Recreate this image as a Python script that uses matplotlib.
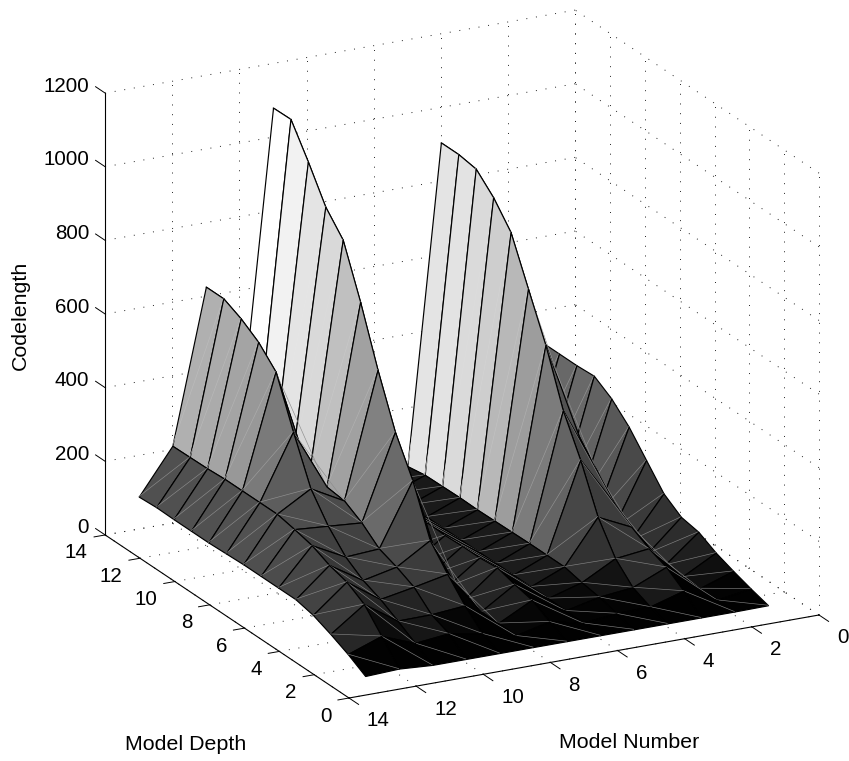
import numpy as np
from matplotlib import pyplot as plt
from mpl_toolkits.mplot3d import proj3d
from mpl_toolkits.mplot3d.art3d import Poly3DCollection
#
W,H=849,761
FS=14.8
plt.rcParams['font.family']=['Liberation Sans','DejaVu Sans']
# codelength per model number, listed from depth 14 down to depth 1
n1=[315,315,315,318,288,243,184,125,93,84,59,41,25,11]
n2=[12,12,12,12,12,12,12,12,10,10,10,10,10,10]
n3=[300,300,300,300,300,300,280,220,163,130,103,84,51,10]
n4=[905,905,897,851,788,666,545,399,296,173,92,45,24,10]
n5=[42,50,51,52,51,52,53,54,54,54,43,35,22,10]
n6=[16,16,16,16,16,16,16,16,16,16,16,14,12,10]
n7=[78,78,78,78,78,79,77,79,79,84,70,59,32,10]
n8=[15,15,15,15,15,15,15,15,14,12,12,12,10,10]
n9=[1080,1081,997,906,848,711,558,421,321,190,130,76,32,10]
n10=[229,229,229,229,229,225,219,191,152,134,111,68,48,10]
n11=[626,626,603,571,522,390,268,198,146,114,94,67,38,10]
n12=[210,211,212,215,215,215,215,205,193,171,157,128,73,16]
n13=[88,91,90,90,90,92,94,94,94,94,83,63,40,12]
depth=list(range(14,0,-1))
number=list(range(1,14))
dticks=list(range(0,15,2))
nticks=list(range(0,15,2))
zticks=list(range(0,1201,200))
ramp_z=[0,30,54,92,210,625,905,1081]
ramp_g=[0,4,28,50,80,176,228,255]
# wanted pixel positions of two floor corners, used to place the axes
FRONT=(349,698)
RIGHT=(819,615)
#
z=np.array([n1,n2,n3,n4,n5,n6,n7,n8,n9,n10,n11,n12,n13],float).T
#
fig=plt.figure(figsize=(W/100,H/100),dpi=100)
ax=fig.add_axes([0,0,1,1],projection='3d',proj_type='ortho',computed_zorder=False)
ax.set_xlim(0,14)
ax.set_ylim(0,14)
ax.set_zlim(0,1200)
ax.view_init(elev=20.1,azim=152.8)
ax.set_box_aspect((534,529,471))
ax.set_axis_off()
#
def grid(xs,ys,zs):
    ax.plot(xs,ys,zs,color='#222222',lw=.7,ls=(0,(1,9)),zorder=1,clip_on=False)
#
def solid(xs,ys,zs,lw=.8):
    ax.plot(xs,ys,zs,color='k',lw=lw,zorder=5000,clip_on=False)
#
for d in dticks:
    grid([d,d],[0,14],[0,0])
    grid([d,d],[0,0],[0,1200])
for n in nticks:
    grid([0,14],[n,n],[0,0])
    grid([14,14],[n,n],[0,1200])
for v in zticks:
    grid([14,14],[0,14],[v,v])
    grid([0,14],[0,0],[v,v])
# surface, painted cell by cell from the far corner to the near one
zo=100
for i in range(len(depth)-1):
    for j in range(len(number)-1):
        # i is the deep side, i+1 the shallow side; j the low number side
        dh,dl=depth[i],depth[i+1]
        nl,nh=number[j],number[j+1]
        quad=[(dl,nl,z[i+1,j]),(dl,nh,z[i+1,j+1]),(dh,nh,z[i,j+1]),(dh,nl,z[i,j])]
        g=np.interp(z[i+1,j],ramp_z,ramp_g)/255
        poly=Poly3DCollection([quad],facecolors=[(g,g,g)],edgecolors='k',linewidths=.85,zorder=zo,clip_on=False)
        ax.add_collection3d(poly,autolim=False)
        hi=g+.5*(1-g)**2
        ax.plot([dl,dh],[nl,nh],[z[i+1,j],z[i,j+1]],color=(hi,hi,hi),lw=.45,zorder=zo+1,clip_on=False)
        zo+=2
# axis lines and ticks
solid([0,14],[14,14],[0,0])
solid([0,0],[0,14],[0,0])
solid([14,14],[14,14],[0,1200])
for d in dticks:
    solid([d,d],[14,14.33],[0,0],.7)
for n in nticks:
    solid([0,-.55],[n,n],[0,0],.7)
for v in zticks:
    solid([14,14.55],[14,14],[v,v],.7)
#
def px(x,y,zz):
    xs,ys,_=proj3d.proj_transform(x,y,zz,ax.get_proj())
    a,b=ax.transData.transform((xs,ys))
    return a,H-b
# scale then shift the axes so the box lands where it should
side=800.
x0,y0=0.,0.
def place():
    ax.set_position([x0/W,y0/H,side/W,side/H])
    fig.canvas.draw()
place()
f,r=px(0,14,0),px(0,0,0)
side*=(RIGHT[0]-FRONT[0])/(r[0]-f[0])
place()
f=px(0,14,0)
x0+=FRONT[0]-f[0]
y0-=FRONT[1]-f[1]
place()
#
def label(x,y,s,ha='center',rot=0,fs=FS):
    fig.text(x/W,1-y/H,s,ha=ha,va='center',rotation=rot,fontsize=fs)
#
for d in dticks:
    a,b=px(d,14,0)
    label(a-17.6,b+18,str(d),'right')
for n in nticks:
    a,b=px(0,n,0)
    label(a+18,b+23,str(n),'left')
for v in zticks:
    a,b=px(14,14,v)
    label(a-16,b-7,str(v),'right')
label(186,745,'Model Depth',fs=15.4)
label(629,742,'Model Number',fs=15.4)
label(20,315,'Codelength',rot=90,fs=15.4)
fig.savefig('out.png',dpi=100)
